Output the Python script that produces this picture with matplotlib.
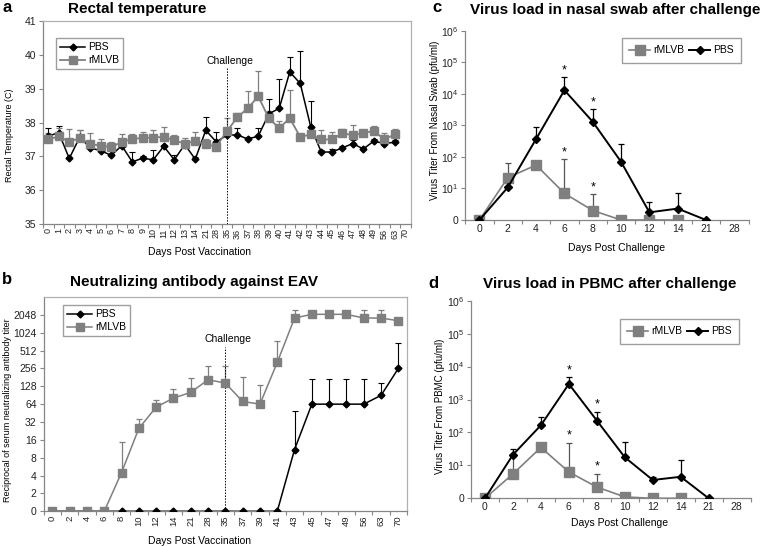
import numpy as np
import matplotlib
matplotlib.use('Agg')
import matplotlib.pyplot as plt
from matplotlib.ticker import FixedLocator, NullLocator

plt.rcParams['font.family'] = ['Liberation Sans', 'DejaVu Sans']
plt.rcParams['mathtext.default'] = 'regular'

nan = np.nan

# ---- a : rectal temperature ----
days_a = ['0', '1', '2', '3', '4', '5', '6', '7', '8', '9', '10', '11', '12', '13', '14',
          '21', '28', '35', '36', '37', '38', '39', '40', '41', '42', '43', '44', '45',
          '46', '47', '48', '49', '56', '63', '70']
temp_pbs = [37.60, 37.70, 36.94, 37.57, 37.25, 37.17, 37.03, 37.32, 36.84, 36.95, 36.90,
            37.30, 36.90, 37.35, 36.92, 37.77, 37.43, 37.62, 37.64, 37.51, 37.60, 38.25,
            38.42, 39.49, 39.15, 37.87, 37.13, 37.13, 37.25, 37.38, 37.22, 37.45, 37.38,
            37.42, nan]
temp_pbs_err = [0.25, 0.20, 0.05, 0.20, 0.05, 0.05, 0.05, 0.10, 0.30, 0.05, 0.30, 0.05,
                0.14, 0.05, 0.05, 0.40, 0.28, 0.10, 0.19, 0.05, 0.24, 0.43, 0.87, 0.45,
                0.95, 0.75, 0.05, 0.10, 0.05, 0.10, 0.05, 0.05, 0.05, 0.05, nan]
temp_rmlvb = [37.50, 37.59, 37.43, 37.54, 37.36, 37.32, 37.27, 37.43, 37.51, 37.55, 37.55,
              37.58, 37.47, 37.38, 37.45, 37.36, 37.29, 37.74, 38.15, 38.42, 38.77, 38.13,
              37.83, 38.13, 37.57, 37.65, 37.50, 37.50, 37.68, 37.63, 37.68, 37.76, 37.50,
              37.65, nan]
temp_rmlvb_err = [0.20, 0.25, 0.38, 0.24, 0.32, 0.18, 0.15, 0.23, 0.16, 0.18, 0.22, 0.28,
                  0.17, 0.17, 0.26, 0.15, 0.05, 0.39, 0.14, 0.51, 0.76, 0.20, 0.20, 0.82,
                  0.05, 0.05, 0.29, 0.23, 0.14, 0.30, 0.05, 0.13, 0.19, 0.15, nan]

# ---- b : neutralizing antibody ----
days_b = ['0', '2', '4', '6', '8', '10', '12', '14', '21', '28', '35', '37', '39', '41',
          '43', '45', '47', '49', '56', '63', '70']
titer_pbs = [0, 0, 0, 0, 0, 0, 0, 0, 0, 0, 0, 0, 0, 0, 11, 64, 64, 64, 64, 90, 256]
titer_pbs_top = [nan] * 14 + [49, 171, 171, 171, 171, 148, 685]
titer_rmlvb = [0, 0, 0, 0, 4.5, 25, 57, 81, 101, 165, 145, 71, 64, 323, 1810, 2090, 2090,
               2090, 1810, 1810, 1630]
titer_rmlvb_top = [nan, nan, nan, nan, 14.6, 36, 75, 115, 178, 277, 277, 181, 135, 750,
                   2440, nan, nan, nan, 2440, 2440, nan]
titer_ticks = ['0', '2', '4', '8', '16', '32', '64', '128', '256', '512', '1024', '2048']

# ---- c / d : virus load after challenge ----
days_c = ['0', '2', '4', '6', '8', '10', '12', '14', '21', '28']
nasal_rmlvb = [0, 22, 55, 7, 2, 0, 0, 0, nan, nan]
nasal_rmlvb_top = [nan, 66, nan, 83, 6.5, nan, nan, nan, nan, nan]
nasal_pbs = [0, 10.8, 370, 13000, 1300, 70, 1.75, 2.3, 0, nan]
nasal_pbs_top = [nan, nan, 910, 33000, 3200, 255, 3.8, 7.3, nan, nan]
pbmc_rmlvb = [0, 5.5, 35, 6.3, 2.2, 1.1, 0, 0, nan, nan]
pbmc_rmlvb_top = [nan, 18, nan, 49, 5.5, nan, nan, nan, nan, nan]
pbmc_pbs = [0, 21, 165, 2960, 230, 17.6, 3.6, 4.5, 0, nan]
pbmc_pbs_top = [nan, 31, 300, 4700, 410, 50, 4.3, 14.6, nan, nan]
star_days = ['6', '8']
virus_ticks = ['0', '10$^1$', '10$^2$', '10$^3$', '10$^4$', '10$^5$', '10$^6$']

black = '#000000'
gray = '#7f7f7f'
spine_col = '#868686'
frame_col = '#b0b0b0'

W, H = 760, 546
fig = plt.figure(figsize=(W / 100, H / 100), dpi=100)


def rect(l, t, r, b):
    return [l / W, 1 - b / H, (r - l) / W, (b - t) / H]


def fx(x, y):
    return x / W, 1 - y / H


def excel_axes(ax, n, frame, xrot, xfs):
    for s in ['left', 'bottom']:
        ax.spines[s].set_color(spine_col)
        ax.spines[s].set_linewidth(0.9)
    for s in ['top', 'right']:
        if frame:
            ax.spines[s].set_color(frame_col)
            ax.spines[s].set_linewidth(0.9)
        else:
            ax.spines[s].set_visible(False)
    ax.set_xlim(-0.5, n - 0.5)
    ax.xaxis.set_minor_locator(FixedLocator(np.arange(n + 1) - 0.5))
    ax.tick_params(axis='x', which='major', length=0, pad=3, labelsize=xfs,
                   labelrotation=xrot, colors='#222222')
    ax.tick_params(axis='x', which='minor', length=3, color=spine_col, width=0.8)
    ax.tick_params(axis='y', which='major', length=3, color=spine_col, width=0.8,
                   labelsize=7.5, colors='#222222', pad=2)


def upper(val, top):
    v = np.array(val, dtype=float)
    t = np.array(top, dtype=float)
    return [np.zeros_like(v), t - v]


# ---------------- panel a ----------------
ax = fig.add_axes(rect(43, 20.7, 410.5, 224.3))
xa = np.arange(len(days_a))
ax.errorbar(xa, temp_pbs, yerr=[np.zeros(len(xa)), temp_pbs_err], fmt='none', ecolor=black,
            elinewidth=0.8, capsize=2, capthick=0.8)
ax.errorbar(xa, temp_rmlvb, yerr=[np.zeros(len(xa)), temp_rmlvb_err], fmt='none', ecolor=gray,
            elinewidth=0.9, capsize=2, capthick=0.9)
ax.plot(xa, temp_pbs, '-D', color=black, ms=3.5, lw=1.1, label='PBS', zorder=3)
ax.plot(xa, temp_rmlvb, '-s', color=gray, ms=5.5, lw=1.3, label='rMLVB', zorder=3)
ax.set_ylim(35, 41)
ax.set_yticks(np.arange(35, 42))
ax.set_xticks(xa, days_a)
excel_axes(ax, len(days_a), True, 90, 6.5)
ax.plot([17, 17], [35, 39.6], ls=(0, (1.5, 1.5)), color=black, lw=0.7)
ax.text(17.3, 39.8, 'Challenge', ha='center', va='center', fontsize=7.5)
ax.legend(loc='upper left', bbox_to_anchor=fx(56, 38), bbox_transform=fig.transFigure,
          fontsize=7.5, frameon=True, fancybox=False, edgecolor=spine_col, numpoints=1,
          handlelength=2.4, handletextpad=0.3, borderpad=0.4, labelspacing=0.3,
          borderaxespad=0)

# ---------------- panel b ----------------
ax = fig.add_axes(rect(43.7, 297, 407, 511.3))
xb = np.arange(len(days_b))
ax.set_yscale('log', base=2)
pb = np.maximum(np.array(titer_pbs, dtype=float), 1)
rb = np.maximum(np.array(titer_rmlvb, dtype=float), 1)
ax.errorbar(xb, pb, yerr=upper(pb, titer_pbs_top), fmt='none', ecolor=black,
            elinewidth=0.8, capsize=2, capthick=0.8)
ax.errorbar(xb, rb, yerr=upper(rb, titer_rmlvb_top), fmt='none', ecolor=gray,
            elinewidth=0.9, capsize=2, capthick=0.9)
ax.plot(xb, pb, '-D', color=black, ms=3.5, lw=1.1, label='PBS', zorder=3)
ax.plot(xb, rb, '-s', color=gray, ms=5.5, lw=1.1, label='rMLVB', zorder=4)
ax.set_ylim(1, 4096)
ax.yaxis.set_major_locator(FixedLocator(2.0 ** np.arange(12)))
ax.yaxis.set_minor_locator(NullLocator())
ax.set_yticklabels(titer_ticks)
ax.set_xticks(xb, days_b)
excel_axes(ax, len(days_b), True, 90, 6.8)
ax.plot([10, 10], [1, 2 ** 9.2], ls=(0, (1.5, 1.5)), color=black, lw=0.7)
ax.text(10.15, 2 ** 9.65, 'Challenge', ha='center', va='center', fontsize=7.5)
ax.legend(loc='upper left', bbox_to_anchor=fx(63, 305), bbox_transform=fig.transFigure,
          fontsize=7.5, frameon=True, fancybox=False, edgecolor=spine_col, numpoints=1,
          handlelength=2.4, handletextpad=0.3, borderpad=0.4, labelspacing=0.3,
          borderaxespad=0)


# ---------------- panels c, d ----------------
def virus_panel(r, rm, rm_top, pbs, pbs_top, leg_xy):
    ax = fig.add_axes(r)
    xc = np.arange(len(days_c))
    ax.set_yscale('log')
    rv = np.maximum(np.array(rm, dtype=float), 1)
    pv = np.maximum(np.array(pbs, dtype=float), 1)
    ax.errorbar(xc, rv, yerr=upper(rv, rm_top), fmt='none', ecolor='#555555',
                elinewidth=0.9, capsize=2.5, capthick=0.9)
    ax.errorbar(xc, pv, yerr=upper(pv, pbs_top), fmt='none', ecolor=black,
                elinewidth=0.9, capsize=2.5, capthick=0.9)
    ax.plot(xc, rv, '-s', color=gray, ms=6.5, lw=1.2, label='rMLVB', zorder=3)
    ax.plot(xc, pv, '-D', color=black, ms=4, lw=1.4, label='PBS', zorder=4)
    for d in star_days:
        i = days_c.index(d)
        for top in (rm_top[i], pbs_top[i]):
            ax.annotate('*', xy=(i, top), xytext=(0, 1), textcoords='offset points',
                        ha='center', va='bottom', fontsize=9)
    ax.set_ylim(1, 1e6)
    ax.yaxis.set_major_locator(FixedLocator(10.0 ** np.arange(7)))
    ax.yaxis.set_minor_locator(NullLocator())
    ax.set_yticklabels(virus_ticks)
    ax.set_xticks(xc, days_c)
    excel_axes(ax, len(days_c), False, 0, 7.5)
    ax.legend(loc='upper left', bbox_to_anchor=leg_xy, bbox_transform=fig.transFigure,
              ncol=2, fontsize=7.5, frameon=True, fancybox=False, edgecolor=spine_col,
              numpoints=1, handlelength=2.0, handletextpad=0.3, columnspacing=0.5,
              borderpad=0.7, borderaxespad=0)
    return ax


virus_panel(rect(465.3, 30.7, 748.5, 220), nasal_rmlvb, nasal_rmlvb_top, nasal_pbs,
            nasal_pbs_top, fx(622, 38))
virus_panel(rect(471, 300.7, 750.6, 498.3), pbmc_rmlvb, pbmc_rmlvb_top, pbmc_pbs,
            pbmc_pbs_top, fx(620, 319))

# ---------------- texts ----------------
for letter, (x, y) in zip('abcd', [(7, 8), (7, 280), (437, 8), (433, 283)]):
    fig.text(*fx(x, y), letter, fontsize=12, fontweight='bold', ha='center', va='center')

titles = [('Rectal temperature', 68, 9), ('Neutralizing antibody against EAV', 70, 282),
          ('Virus load in nasal swab after challenge', 470, 10),
          ('Virus load in PBMC after challenge', 483, 284)]
for t, x, y in titles:
    fig.text(*fx(x, y), t, fontsize=11, fontweight='bold', ha='left', va='center')

fig.text(*fx(200, 252), 'Days Post Vaccination', fontsize=7.5, ha='center', va='center')
fig.text(*fx(199, 541), 'Days Post Vaccination', fontsize=7.5, ha='center', va='center')
fig.text(*fx(617, 248), 'Days Post Challenge', fontsize=7.5, ha='center', va='center')
fig.text(*fx(620, 523), 'Days Post Challenge', fontsize=7.5, ha='center', va='center')

fig.text(*fx(10, 135), 'Rectal Temperature (C)', fontsize=6.5, rotation=90,
         ha='center', va='center')
fig.text(*fx(8, 410), 'Reciprocal of serum neutralizing antibody titer', fontsize=6.5,
         rotation=90, ha='center', va='center')
fig.text(*fx(435, 120), 'Virus Titer From Nasal Swab (pfu/ml)', fontsize=7, rotation=90,
         ha='center', va='center')
fig.text(*fx(440, 406), 'Virus Titer From PBMC (pfu/ml)', fontsize=7, rotation=90,
         ha='center', va='center')

fig.savefig('out.png', dpi=100, facecolor='white')
